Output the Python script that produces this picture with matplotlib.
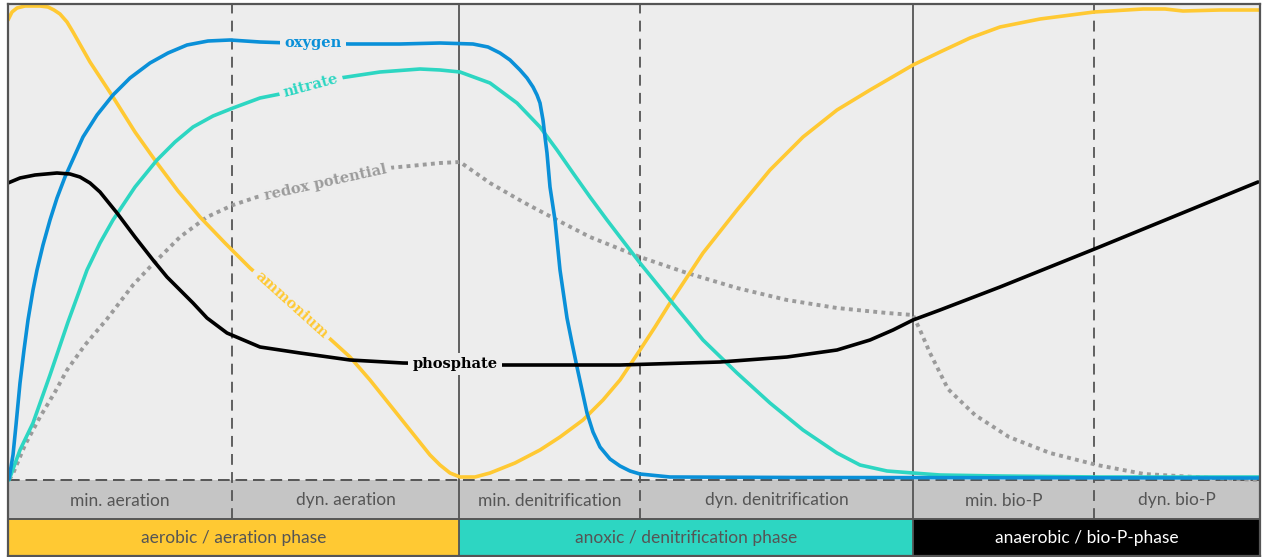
import matplotlib
matplotlib.use("Agg")
import matplotlib.pyplot as plt
from matplotlib.patches import Rectangle

# ---------------- data (time units, concentration level units) ----------------
phase_bounds = [0, 224, 451, 632, 905, 1086, 1252]
sub_labels = ["min. aeration", "dyn. aeration", "min. denitrification",
              "dyn. denitrification", "min. bio-P", "dyn. bio-P"]
sub_dashed = [True, False, True, False, True]  # style of boundary after each sub-phase
main_bounds = [0, 451, 905, 1252]
main_labels = ["aerobic / aeration phase", "anoxic / denitrification phase",
               "anaerobic / bio-P-phase"]

oxygen_t = [1, 5, 8, 12, 16, 20, 25, 29, 35, 42, 49, 57, 66, 75, 89, 105, 122, 142,
            160, 179, 200, 222, 252, 282, 342, 392, 432, 465, 480, 492, 502, 512,
            519, 525, 529, 532, 535, 537, 539, 542, 547, 552, 559, 564, 569, 579,
            585, 592, 602, 612, 622, 632, 662, 792, 1252]
oxygen_v = [1, 25, 55, 97, 130, 160, 190, 210, 235, 260, 282, 303, 323, 343, 365,
            385, 402, 417, 427, 435, 439, 440, 438, 437, 436, 436, 437, 436, 433,
            427, 420, 410, 402, 393, 385, 377, 360, 343, 327, 293, 260, 210, 162,
            137, 113, 67, 48, 33, 21, 14, 9, 6, 3, 2.5, 2]

nitrate_t = [1, 12, 25, 42, 60, 79, 92, 105, 127, 149, 167, 185, 205, 225, 252, 272,
             302, 332, 372, 412, 432, 452, 482, 509, 532, 549, 565, 582, 599, 612,
             632, 662, 695, 729, 762, 795, 829, 852, 879, 905, 932, 992, 1092, 1252]
nitrate_v = [0, 30, 57, 105, 158, 210, 237, 260, 293, 320, 338, 353, 364, 372, 382,
             386, 394, 402, 408, 411, 410, 408, 397, 377, 353, 330, 307, 283, 260,
             243, 217, 180, 140, 107, 77, 50, 27, 15, 9, 7, 5, 4, 3, 3]

ammonium_t = [0, 4, 9, 17, 32, 40, 46, 52, 59, 65, 82, 105, 127, 149, 170, 192, 217,
              242, 282, 320, 342, 362, 382, 402, 422, 432, 442, 452, 467, 482, 507,
              532, 552, 575, 595, 612, 632, 647, 662, 695, 729, 762, 795, 829, 862,
              905, 932, 962, 992, 1032, 1086, 1135, 1157, 1175, 1212, 1252]
ammonium_v = [460, 468, 472, 474, 474, 473, 470, 466, 458, 448, 418, 383, 348, 317,
              289, 263, 237, 212, 177, 143, 123, 100, 75, 50, 25, 15, 7, 3, 3, 7, 17,
              30, 43, 60, 80, 100, 130, 153, 177, 227, 270, 310, 343, 370, 390, 415,
              428, 442, 453, 461, 468, 471, 471, 469, 470, 470]

phosphate_t = [0, 12, 27, 49, 62, 72, 82, 92, 109, 127, 145, 159, 172, 185, 199, 219,
               252, 292, 342, 395, 445, 492, 612, 712, 779, 829, 862, 885, 905, 932,
               992, 1089, 1250]
phosphate_v = [297, 302, 305, 307, 306, 303, 297, 288, 267, 243, 220, 203, 190, 177,
               162, 147, 133, 127, 120, 117, 116, 115, 115, 118, 123, 130, 140, 150,
               160, 170, 193, 232, 298]

redox_t = [1, 4, 17, 32, 47, 59, 77, 99, 125, 142, 172, 199, 225, 249, 312, 380, 402,
           432, 452, 482, 515, 549, 582, 632, 679, 729, 779, 829, 879, 905, 912, 922,
           932, 940, 967, 1001, 1042, 1089, 1136, 1204, 1252]
redox_v = [1, 4, 35, 63, 88, 110, 135, 161, 195, 213, 243, 263, 275, 283, 297, 312,
           314, 317, 318, 297, 278, 260, 243, 223, 207, 192, 180, 172, 167, 165, 150,
           127, 107, 91, 65, 43, 27, 15, 6, 2, 0]

# label anchor positions on each curve (t, v, rotation)
labels = {
    "oxygen": (305, 437, 0),
    "nitrate": (303, 394, 15),
    "ammonium": (283, 175, -42),
    "redox potential": (318, 297, 12.5),
    "phosphate": (447, 116, 0),
}

# ---------------- styling ----------------
BG = "#EDEDED"
EDGE = "#555555"
YELLOW = "#FFC933"
TEAL = "#2DD6C2"
BLUE = "#0A90D8"
GREY = "#9B9B9B"
ROWGREY = "#C5C5C5"

W, H = 1269, 557
fig = plt.figure(figsize=(W / 100, H / 100), dpi=100)
ax = fig.add_axes([8 / W, 1 / H, 1252 / W, 552 / H])
ax.set_xlim(0, 1252)
ax.set_ylim(-76, 476)
ax.set_facecolor(BG)
ax.set_xticks([])
ax.set_yticks([])
for s in ax.spines.values():
    s.set_color(EDGE)
    s.set_linewidth(1.6)
    s.set_zorder(20)

ROW1 = -39
ROW2 = -76

# grey sub-phase row
ax.add_patch(Rectangle((0, ROW1), 1252, -ROW1, facecolor=ROWGREY, edgecolor="none", zorder=1))
# main phase row
main_colors = [YELLOW, TEAL, "#000000"]
for i in range(3):
    x0, x1 = main_bounds[i], main_bounds[i + 1]
    ax.add_patch(Rectangle((x0, ROW2), x1 - x0, ROW1 - ROW2, facecolor=main_colors[i],
                           edgecolor="none", zorder=1))
    ax.text((x0 + x1) / 2, (ROW1 + ROW2) / 2 - 1, main_labels[i],
            ha="center", va="center", fontsize=12.5, family="Lato",
            color="white" if i == 2 else "#555555", zorder=5)

for i, lab in enumerate(sub_labels):
    x0, x1 = phase_bounds[i], phase_bounds[i + 1]
    ax.text((x0 + x1) / 2, ROW1 / 2 - 1, lab, ha="center", va="center",
            fontsize=12.5, family="Lato", color="#555555", zorder=5)

# row separator
ax.axhline(ROW1, color=EDGE, lw=1.4, zorder=6)
# baseline dashed
ax.axhline(0, color=EDGE, lw=1.4, ls=(0, (6, 3)), zorder=6)

# phase boundaries
for i, b in enumerate(phase_bounds[1:-1]):
    if sub_dashed[i]:
        ax.plot([b, b], [ROW1, 476], color=EDGE, lw=1.3, ls=(0, (6, 4)), zorder=2)
    else:
        ax.plot([b, b], [ROW2, 476], color=EDGE, lw=1.3, zorder=2)

# curves
kw = dict(lw=2.6, solid_capstyle="round", solid_joinstyle="round", zorder=8)
ax.plot(redox_t, redox_v, color=GREY, lw=2.8, ls=(0, (1, 1.1)),
        dash_capstyle="butt", zorder=7)
ax.plot(ammonium_t, ammonium_v, color=YELLOW, **kw)
ax.plot(nitrate_t, nitrate_v, color=TEAL, **kw)
ax.plot(oxygen_t, oxygen_v, color=BLUE, **kw)
ax.plot(phosphate_t, phosphate_v, color="black", **kw)

label_colors = {"oxygen": BLUE, "nitrate": TEAL, "ammonium": YELLOW,
                "redox potential": GREY, "phosphate": "black"}
for name, (t, v, rot) in labels.items():
    ax.text(t, v, name, ha="center", va="center", rotation=rot,
            rotation_mode="anchor", fontsize=10.5, family="DejaVu Serif",
            weight="bold", color=label_colors[name], zorder=9,
            bbox=dict(boxstyle="square,pad=0.3", facecolor=BG, edgecolor="none"))

fig.savefig("out.png", dpi=100, facecolor="white")
